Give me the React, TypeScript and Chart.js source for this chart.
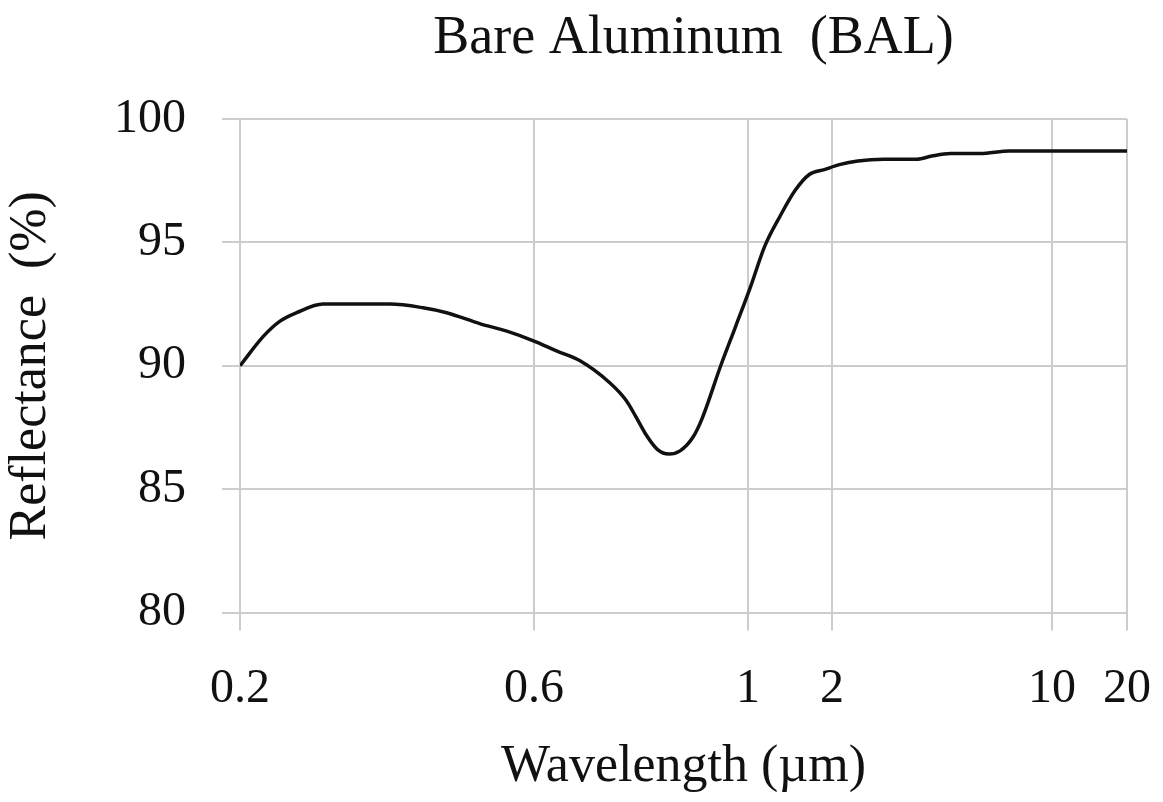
import React, { useEffect, useRef } from 'react';
import { Chart, registerables, LinearScale } from 'chart.js';

const TITLE = 'Bare Aluminum  (BAL)';
const X_TITLE = 'Wavelength (µm)';
const Y_TITLE = 'Reflectance  (%)';

// Labelled wavelengths on the (broken) x axis
const X_TICKS = [0.2, 0.6, 1, 2, 10, 20];
const X_TICK_LABELS = ['0.2', '0.6', '1', '2', '10', '20'];
// Where each labelled wavelength sits along the axis (0 = left, 1 = right)
const X_TICK_FRACTIONS = [0, 0.3315, 0.5727, 0.6674, 0.9155, 1];

const Y_MIN = 80;
const Y_MAX = 100;
const Y_STEP = 5;

// Wavelength (µm)
const WAVELENGTH = [
  0.2, 0.232, 0.254, 0.277, 0.313, 0.404, 0.449, 0.481, 0.527, 0.563,
  0.6, 0.642, 0.686, 0.742, 0.772, 0.79, 0.811, 0.831, 0.852, 0.873,
  0.897, 0.914, 0.949, 0.977, 1.03, 1.2, 1.38, 1.56, 1.73, 1.91,
  2.27, 2.94, 3.88, 5.09, 5.63, 6.31, 7.38, 8.46, 10, 20,
];
// Reflectance (%)
const REFLECTANCE = [
  90.0, 91.2, 91.8, 92.15, 92.5, 92.5, 92.35, 92.15, 91.7, 91.4,
  91.0, 90.6, 90.2, 89.3, 88.6, 87.95, 87.15, 86.6, 86.42, 86.55,
  87.1, 87.85, 90.0, 91.6, 93.2, 94.85, 96.05, 97.1, 97.75, 97.95,
  98.15, 98.3, 98.37, 98.37, 98.5, 98.6, 98.6, 98.7, 98.7, 98.7,
];

const FONT = '"Liberation Serif", "Times New Roman", Times, serif';
const TEXT = '#111111';
const GRID = '#cccccc';

function valueToFraction(v: number): number {
  const n = X_TICKS.length;
  if (v <= X_TICKS[0]) {
    const f = (v - X_TICKS[0]) / (X_TICKS[1] - X_TICKS[0]);
    return X_TICK_FRACTIONS[0] + f * (X_TICK_FRACTIONS[1] - X_TICK_FRACTIONS[0]);
  }
  for (let i = 0; i < n - 1; i++) {
    if (v <= X_TICKS[i + 1]) {
      const f = (v - X_TICKS[i]) / (X_TICKS[i + 1] - X_TICKS[i]);
      return X_TICK_FRACTIONS[i] + f * (X_TICK_FRACTIONS[i + 1] - X_TICK_FRACTIONS[i]);
    }
  }
  const f = (v - X_TICKS[n - 2]) / (X_TICKS[n - 1] - X_TICKS[n - 2]);
  return X_TICK_FRACTIONS[n - 2] + f * (X_TICK_FRACTIONS[n - 1] - X_TICK_FRACTIONS[n - 2]);
}

function fractionToValue(fr: number): number {
  const n = X_TICKS.length;
  for (let i = 0; i < n - 1; i++) {
    if (fr <= X_TICK_FRACTIONS[i + 1] || i === n - 2) {
      const f = (fr - X_TICK_FRACTIONS[i]) / (X_TICK_FRACTIONS[i + 1] - X_TICK_FRACTIONS[i]);
      return X_TICKS[i] + f * (X_TICKS[i + 1] - X_TICKS[i]);
    }
  }
  return X_TICKS[n - 1];
}

class PiecewiseScale extends LinearScale {
  static id = 'piecewise';
  static defaults = {};
  buildTicks() {
    (this as any).min = X_TICKS[0];
    (this as any).max = X_TICKS[X_TICKS.length - 1];
    return X_TICKS.map((v) => ({ value: v }));
  }
  getPixelForValue(value: any) {
    if (value === null || value === undefined || isNaN(value)) return NaN;
    return this.getPixelForDecimal(valueToFraction(+value));
  }
  getValueForPixel(pixel: number) {
    return fractionToValue(this.getDecimalForPixel(pixel));
  }
}

Chart.register(...registerables, PiecewiseScale as any);

// Nudges the title a little to the right of the plot centre, as in the original
const titleNudge = {
  id: 'titleNudge',
  afterLayout(chart: any) {
    const tb = chart.titleBlock;
    if (tb) {
      tb.left += 10;
      tb.right += 10;
    }
  },
};

export default function App() {
  const ref = useRef<HTMLCanvasElement | null>(null);

  useEffect(() => {
    if (!ref.current) return;
    const data = WAVELENGTH.map((w, i) => ({ x: w, y: REFLECTANCE[i] }));
    const chart = new Chart(ref.current, {
      type: 'line',
      data: {
        datasets: [
          {
            data,
            borderColor: '#111111',
            borderWidth: 3.5,
            pointRadius: 0,
            fill: false,
            cubicInterpolationMode: 'monotone',
          },
        ],
      },
      plugins: [titleNudge],
      options: {
        animation: false,
        responsive: false,
        maintainAspectRatio: false,
        devicePixelRatio: 1,
        layout: { padding: { left: 0, right: 36, top: 0, bottom: 0 } },
        plugins: {
          legend: { display: false },
          tooltip: { enabled: false },
          title: {
            display: true,
            text: TITLE,
            fullSize: false,
            color: TEXT,
            font: { family: FONT, size: 54, weight: 'normal' },
            padding: { top: 6, bottom: 48.2 },
          },
        },
        scales: {
          x: {
            type: 'piecewise' as any,
            min: X_TICKS[0],
            max: X_TICKS[X_TICKS.length - 1],
            afterFit: (s: any) => {
              s.height = 802 - 612.5;
              s.paddingLeft = 0;
              s.paddingRight = 0;
            },
            grid: {
              color: GRID,
              lineWidth: 2,
              tickLength: 18,
              tickColor: GRID,
              tickWidth: 2,
            },
            border: { display: true, color: GRID, width: 2 },
            ticks: {
              autoSkip: false,
              maxRotation: 0,
              minRotation: 0,
              padding: 30,
              color: TEXT,
              font: { family: FONT, size: 48 },
              callback: (_v: any, i: number) => X_TICK_LABELS[i],
            },
            title: {
              display: true,
              text: X_TITLE,
              color: TEXT,
              font: { family: FONT, size: 52 },
              padding: { top: 0, bottom: 3 },
            },
          } as any,
          y: {
            type: 'linear',
            min: Y_MIN,
            max: Y_MAX,
            afterFit: (s: any) => {
              s.width = 240;
            },
            grid: {
              color: GRID,
              lineWidth: 2,
              tickLength: 18,
              tickColor: GRID,
              tickWidth: 2,
            },
            border: { display: true, color: GRID, width: 2 },
            ticks: {
              stepSize: Y_STEP,
              padding: 36,
              color: TEXT,
              font: { family: FONT, size: 48 },
            },
            title: {
              display: true,
              text: Y_TITLE,
              color: TEXT,
              font: { family: FONT, size: 52 },
              padding: { top: 0, bottom: 0 },
            },
          },
        },
      },
    });
    return () => chart.destroy();
  }, []);

  return (
    <div style={{ position: 'fixed', left: 0, top: 0, width: 1163, height: 802, background: '#ffffff' }}>
      <canvas ref={ref} width={1163} height={802} style={{ display: 'block' }} />
    </div>
  );
}
